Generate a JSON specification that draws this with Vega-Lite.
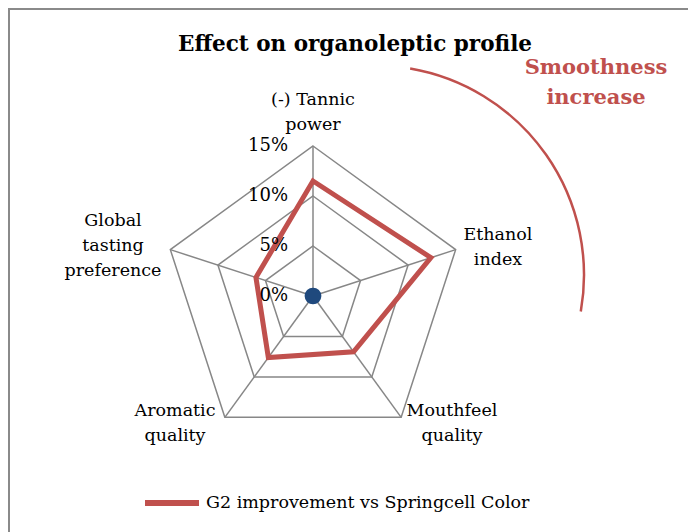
{
  "$schema": "https://vega.github.io/schema/vega-lite/v6.json",
  "width": 688,
  "height": 532,
  "autosize": {"type": "none"},
  "padding": {"left": 9, "top": 9, "right": 0, "bottom": 0},
  "background": "white",
  "config": {
    "view": {"stroke": "#8a8a8a", "strokeWidth": 2},
    "text": {"font": "DejaVu Serif", "fontSize": 18, "color": "#000000"}
  },
  "data": {"values": [{"one": 1}]},
  "datasets": {
    "series": [
      {"axis": "(-) Tannic power", "i": 0, "value": 11.5},
      {"axis": "Ethanol index", "i": 1, "value": 12.4},
      {"axis": "Mouthfeel quality", "i": 2, "value": 6.9},
      {"axis": "Aromatic quality", "i": 3, "value": 7.6},
      {"axis": "Global tasting preference", "i": 4, "value": 6.0}
    ],
    "grid": [
      {"level": 5, "i": 0}, {"level": 5, "i": 1}, {"level": 5, "i": 2}, {"level": 5, "i": 3}, {"level": 5, "i": 4},
      {"level": 10, "i": 0}, {"level": 10, "i": 1}, {"level": 10, "i": 2}, {"level": 10, "i": 3}, {"level": 10, "i": 4},
      {"level": 15, "i": 0}, {"level": 15, "i": 1}, {"level": 15, "i": 2}, {"level": 15, "i": 3}, {"level": 15, "i": 4}
    ],
    "ticks": [
      {"value": 0, "label": "0%"},
      {"value": 5, "label": "5%"},
      {"value": 10, "label": "10%"},
      {"value": 15, "label": "15%"}
    ]
  },
  "layer": [
    {
      "data": {"name": "grid"},
      "transform": [
        {"calculate": "datum.i * 2 * PI / 5", "as": "angle"},
        {"calculate": "datum.level * sin(datum.angle)", "as": "gx"},
        {"calculate": "datum.level * cos(datum.angle)", "as": "gy"}
      ],
      "mark": {"type": "line", "interpolate": "linear-closed", "stroke": "#878787", "strokeWidth": 1.5},
      "encoding": {
        "x": {"field": "gx", "type": "quantitative", "scale": {"domain": [-30.4, 38.4], "nice": false, "zero": false}, "axis": null},
        "y": {"field": "gy", "type": "quantitative", "scale": {"domain": [-24.5, 28.7], "nice": false, "zero": false}, "axis": null},
        "detail": {"field": "level", "type": "nominal"},
        "order": {"field": "i", "type": "quantitative"}
      }
    },
    {
      "data": {"name": "grid"},
      "transform": [
        {"filter": "datum.level == 15"},
        {"calculate": "datum.i * 2 * PI / 5", "as": "angle"},
        {"calculate": "datum.level * sin(datum.angle)", "as": "gx"},
        {"calculate": "datum.level * cos(datum.angle)", "as": "gy"},
        {"calculate": "0", "as": "zero"}
      ],
      "mark": {"type": "rule", "stroke": "#878787", "strokeWidth": 1.5},
      "encoding": {
        "x": {"field": "zero", "type": "quantitative"},
        "y": {"field": "zero", "type": "quantitative"},
        "x2": {"field": "gx"},
        "y2": {"field": "gy"}
      }
    },
    {
      "data": {"name": "series"},
      "transform": [
        {"calculate": "datum.i * 2 * PI / 5", "as": "angle"},
        {"calculate": "datum.value * sin(datum.angle)", "as": "px"},
        {"calculate": "datum.value * cos(datum.angle)", "as": "py"}
      ],
      "mark": {"type": "line", "interpolate": "linear-closed", "strokeWidth": 5},
      "encoding": {
        "x": {"field": "px", "type": "quantitative"},
        "y": {"field": "py", "type": "quantitative"},
        "order": {"field": "i", "type": "quantitative"},
        "color": {
          "datum": "G2 improvement vs Springcell Color",
          "type": "nominal",
          "scale": {"range": ["#C0504D"]},
          "legend": {
            "title": null,
            "orient": "none",
            "legendX": 133,
            "legendY": 464,
            "padding": 0,
            "symbolType": "stroke",
            "symbolSize": 2916,
            "symbolStrokeWidth": 6,
            "labelFont": "DejaVu Serif",
            "labelFontSize": 17.5,
            "labelColor": "#000000",
            "labelOffset": 4,
            "labelLimit": 500
          }
        }
      }
    },
    {
      "mark": {"type": "point", "filled": true, "color": "#1F497D", "size": 280, "opacity": 1},
      "encoding": {
        "x": {"datum": 0, "type": "quantitative"},
        "y": {"datum": 0, "type": "quantitative"}
      }
    },
    {
      "data": {"name": "ticks"},
      "mark": {"type": "text", "align": "right", "baseline": "middle", "fontSize": 18},
      "encoding": {
        "x": {"datum": -2.5, "type": "quantitative"},
        "y": {"field": "value", "type": "quantitative"},
        "text": {"field": "label"}
      }
    },
    {
      "mark": {"type": "text", "align": "center", "baseline": "middle", "fontSize": 21.5, "fontWeight": "bold", "text": "Effect on organoleptic profile"},
      "encoding": {"x": {"datum": 4.2, "type": "quantitative"}, "y": {"datum": 25.1, "type": "quantitative"}}
    },
    {
      "mark": {"type": "text", "align": "center", "baseline": "middle", "fontSize": 21, "fontWeight": "bold", "color": "#C0504D", "lineHeight": 30, "text": ["Smoothness", "increase"]},
      "encoding": {"x": {"datum": 28.3, "type": "quantitative"}, "y": {"datum": 22.8, "type": "quantitative"}}
    },
    {
      "mark": {"type": "text", "align": "center", "baseline": "middle", "fontSize": 17.5, "lineHeight": 25, "text": ["(-) Tannic", "power"]},
      "encoding": {"x": {"datum": 0, "type": "quantitative"}, "y": {"datum": 19.6, "type": "quantitative"}}
    },
    {
      "mark": {"type": "text", "align": "center", "baseline": "middle", "fontSize": 17.5, "lineHeight": 25, "text": ["Ethanol", "index"]},
      "encoding": {"x": {"datum": 18.5, "type": "quantitative"}, "y": {"datum": 6.1, "type": "quantitative"}}
    },
    {
      "mark": {"type": "text", "align": "center", "baseline": "middle", "fontSize": 17.5, "lineHeight": 25, "text": ["Mouthfeel", "quality"]},
      "encoding": {"x": {"datum": 13.9, "type": "quantitative"}, "y": {"datum": -11.5, "type": "quantitative"}}
    },
    {
      "mark": {"type": "text", "align": "center", "baseline": "middle", "fontSize": 17.5, "lineHeight": 25, "text": ["Aromatic", "quality"]},
      "encoding": {"x": {"datum": -13.8, "type": "quantitative"}, "y": {"datum": -11.5, "type": "quantitative"}}
    },
    {
      "mark": {"type": "text", "align": "center", "baseline": "middle", "fontSize": 17.5, "lineHeight": 25, "text": ["Global", "tasting", "preference"]},
      "encoding": {"x": {"datum": -20.0, "type": "quantitative"}, "y": {"datum": 7.5, "type": "quantitative"}}
    },
    {
      "mark": {"type": "arc", "theta": 0.171, "theta2": 1.746, "radius": 209.5, "radius2": 209.5, "fill": null, "stroke": "#C0504D", "strokeWidth": 2.5},
      "encoding": {"x": {"datum": 6.15, "type": "quantitative"}, "y": {"datum": 2.1, "type": "quantitative"}}
    }
  ]
}
